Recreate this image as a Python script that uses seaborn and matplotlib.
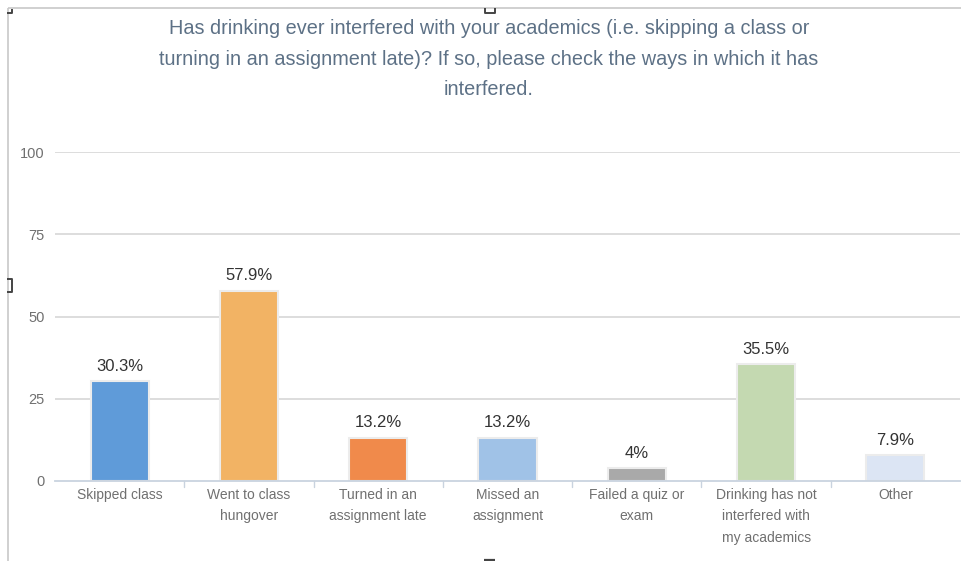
import matplotlib
matplotlib.use("Agg")
import matplotlib.pyplot as plt
import seaborn as sns
import pandas as pd
from matplotlib.lines import Line2D

categories = [
    "Skipped class",
    "Went to class\nhungover",
    "Turned in an\nassignment late",
    "Missed an\nassignment",
    "Failed a quiz or\nexam",
    "Drinking has not\ninterfered with\nmy academics",
    "Other",
]
values = [30.3, 57.9, 13.2, 13.2, 4, 35.5, 7.9]
value_labels = ["30.3%", "57.9%", "13.2%", "13.2%", "4%", "35.5%", "7.9%"]
bar_colors = ["#5f9bd9", "#f2b364", "#f08a4b", "#a0c2e7", "#a9a9a9", "#c4d9b1", "#dce5f4"]
y_ticks = [0, 25, 50, 75, 100]
title = ("Has drinking ever interfered with your academics (i.e. skipping a class or\n"
         "turning in an assignment late)? If so, please check the ways in which it has\n"
         "interfered.")

sns.set_theme(style="white")
plt.rcParams["font.family"] = ["Liberation Sans", "DejaVu Sans"]

df = pd.DataFrame({"category": categories, "value": values})

W, H = 962, 561
fig = plt.figure(figsize=(W / 100, H / 100), dpi=100)
fig.patch.set_facecolor("white")
ax = fig.add_axes([55 / W, 80 / H, 905 / W, 329 / H])
ax.set_facecolor("white")

# light grid lines behind the bars
for t in y_ticks[1:]:
    ax.axhline(t, color="#dadada", lw=1.3, zorder=0)

sns.barplot(data=df, x="category", y="value", hue="category", palette=bar_colors,
            legend=False, width=0.45, ax=ax, edgecolor="#ececec", linewidth=1.5,
            saturation=1, zorder=2)

ax.set_ylim(0, 100)
ax.set_xlim(-0.5, len(categories) - 0.5)
ax.set_yticks(y_ticks)
ax.set_yticklabels([str(t) for t in y_ticks], color="#707070", fontsize=10.5)
ax.tick_params(axis="y", length=0, pad=7.5)
ax.tick_params(axis="x", length=0, pad=5)
ax.set_xticks(range(len(categories)))
ax.set_xticklabels(categories, color="#707070", fontsize=10, linespacing=1.68)
ax.set_xlabel("")
ax.set_ylabel("")
for s in ["top", "right", "left"]:
    ax.spines[s].set_visible(False)
ax.spines["bottom"].set_color("#c9d3df")
ax.spines["bottom"].set_linewidth(1.3)

# small separators between categories on the baseline
for b in range(1, len(categories)):
    ax.plot([b - 0.5, b - 0.5], [0, -1.8], color="#c9d3df", lw=1, clip_on=False)

# value labels above bars
for i, (v, lab) in enumerate(zip(values, value_labels)):
    ax.text(i, v + 2.2, lab, ha="center", va="bottom", fontsize=12, color="#333333")

fig.text(489 / W, 1 - 19 / H, title, ha="center", va="top", fontsize=14.3,
         color="#5d7186", linespacing=1.77)


def px_line(xs, ys, color, lw):
    fig.add_artist(Line2D([x / W for x in xs], [1 - y / H for y in ys],
                          transform=fig.transFigure, color=color, lw=lw,
                          solid_capstyle="butt"))


# frame around the chart
px_line([8, W], [8, 8], "#c8c8c8", 1.2)
px_line([8, 8], [8, H], "#c8c8c8", 1.2)

# selection handles on the frame
px_line([7, 12, 12], [13, 13, 9], "#444444", 1.4)
px_line([485, 485, 495, 495], [8, 13, 13, 8], "#444444", 1.4)
px_line([7, 12, 12, 7], [279, 279, 292, 292], "#444444", 1.4)
px_line([484, 495], [560, 560], "#444444", 1.6)

fig.savefig("out.png", dpi=100)
